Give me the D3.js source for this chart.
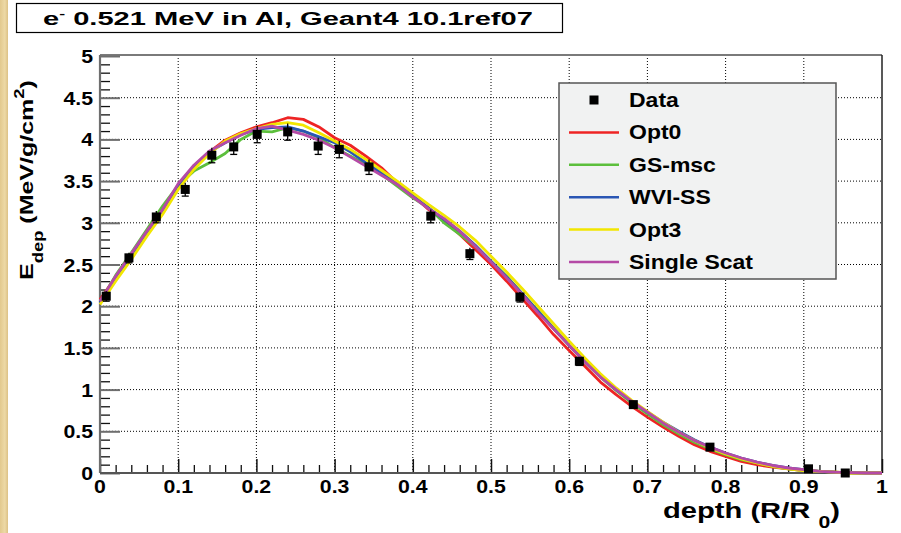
<!DOCTYPE html>
<html><head><meta charset="utf-8">
<script src="https://cdn.jsdelivr.net/npm/d3@7"></script>
<style>
html,body{margin:0;padding:0;background:#fff;}
svg{display:block;}
text{font-family:"Liberation Sans",Arial,Helvetica,sans-serif;font-weight:bold;fill:#000;}
</style></head>
<body>
<svg id="c" width="901" height="533"></svg>
<script>
// ---------------- data ----------------
const titleMain = " 0.521 MeV in Al, Geant4 10.1ref07";
const xTicks = [0,0.1,0.2,0.3,0.4,0.5,0.6,0.7,0.8,0.9,1];
const xTickLabels = ["0","0.1","0.2","0.3","0.4","0.5","0.6","0.7","0.8","0.9","1"];
const yTicks = [0,0.5,1,1.5,2,2.5,3,3.5,4,4.5,5];
const yTickLabels = ["0","0.5","1","1.5","2","2.5","3","3.5","4","4.5","5"];

const depth = [0,0.02,0.04,0.06,0.08,0.10,0.12,0.14,0.16,0.18,0.20,0.22,0.24,0.26,0.28,0.30,0.32,0.34,0.36,0.38,0.40,0.42,0.44,0.46,0.48,0.50,0.52,0.54,0.56,0.58,0.60,0.62,0.64,0.66,0.68,0.70,0.72,0.74,0.76,0.78,0.80,0.82,0.84,0.86,0.88,0.90,0.92,0.94,0.96,0.98,1.00];

const opt0 = [2.08,2.35,2.60,2.86,3.13,3.44,3.66,3.85,3.99,4.08,4.15,4.20,4.26,4.24,4.15,4.02,3.93,3.80,3.66,3.48,3.33,3.16,3.03,2.86,2.68,2.50,2.30,2.09,1.88,1.66,1.47,1.28,1.09,0.94,0.80,0.67,0.55,0.44,0.34,0.26,0.20,0.14,0.10,0.07,0.05,0.03,0.02,0.01,0.00,0.00,0.00];
const gsmsc = [2.05,2.37,2.64,2.92,3.20,3.45,3.62,3.72,3.83,4.00,4.10,4.09,4.14,4.10,4.02,3.90,3.80,3.70,3.58,3.44,3.30,3.18,3.00,2.86,2.72,2.54,2.36,2.15,1.95,1.74,1.53,1.33,1.15,0.99,0.84,0.71,0.58,0.47,0.37,0.29,0.22,0.16,0.12,0.08,0.05,0.03,0.02,0.01,0.00,0.00,0.00];
const wviss = [2.04,2.34,2.60,2.87,3.15,3.43,3.68,3.85,3.96,4.06,4.12,4.14,4.15,4.10,4.03,3.96,3.85,3.72,3.60,3.47,3.33,3.18,3.04,2.90,2.73,2.54,2.35,2.15,1.94,1.73,1.53,1.34,1.16,1.00,0.86,0.73,0.61,0.50,0.40,0.31,0.24,0.18,0.13,0.09,0.06,0.04,0.02,0.01,0.005,0.00,0.00];
const opt3  = [2.02,2.30,2.56,2.84,3.10,3.40,3.64,3.83,3.98,4.07,4.13,4.18,4.20,4.17,4.08,3.98,3.88,3.76,3.63,3.50,3.36,3.22,3.09,2.95,2.79,2.60,2.41,2.21,2.00,1.79,1.58,1.38,1.19,1.02,0.87,0.74,0.61,0.49,0.39,0.30,0.23,0.17,0.12,0.08,0.05,0.03,0.02,0.01,0.00,0.00,0.00];
const single= [2.06,2.36,2.63,2.90,3.16,3.47,3.69,3.86,3.96,4.05,4.13,4.16,4.11,4.06,3.99,3.90,3.79,3.68,3.57,3.46,3.31,3.17,3.05,2.90,2.72,2.53,2.34,2.14,1.92,1.73,1.53,1.33,1.15,1.00,0.86,0.73,0.60,0.49,0.39,0.31,0.24,0.18,0.13,0.09,0.06,0.04,0.02,0.01,0.005,0.00,0.00];

const seriesNames = ["Opt0","GS-msc","WVI-SS","Opt3","Single Scat"];
const seriesValues = [opt0,gsmsc,wviss,opt3,single];
const seriesColors = ["#ee2424","#5cbf3c","#2a56b4","#f2e600","#b54aa6"];

const dataX   = [0.008,0.037,0.072,0.109,0.143,0.171,0.201,0.240,0.279,0.306,0.344,0.423,0.473,0.537,0.613,0.682,0.780,0.906,0.953];
const dataY   = [2.12,2.58,3.07,3.40,3.81,3.91,4.06,4.09,3.92,3.88,3.67,3.08,2.63,2.11,1.34,0.82,0.31,0.05,0.00];
const dataErr = [0.06,0.06,0.07,0.08,0.09,0.09,0.10,0.10,0.10,0.10,0.09,0.08,0.07,0.06,0.05,0.04,0.03,0.02,0.01];

// ---------------- layout ----------------
const L=100, R=882, T=55, B=473;
const svg = d3.select("#c");
const x = d3.scaleLinear().domain([0,1]).range([L,R]);
const y = d3.scaleLinear().domain([0,5]).range([B,T+1]);

// textured left strip
const grad = svg.append("defs").append("linearGradient").attr("id","beige").attr("x1",0).attr("x2",1);
grad.append("stop").attr("offset","0%").attr("stop-color","#e2c98e");
grad.append("stop").attr("offset","60%").attr("stop-color","#edd9a6");
grad.append("stop").attr("offset","100%").attr("stop-color","#dcc185");
svg.append("rect").attr("x",0).attr("y",0).attr("width",8).attr("height",533).attr("fill","url(#beige)");

function scaleX(sel, k){
  sel.each(function(){
    const t=d3.select(this);
    const tx=+t.attr("x")||0, ty=+t.attr("y")||0;
    t.attr("x",0).attr("y",0).attr("transform",`translate(${tx},${ty}) scale(${k},1)`);
  });
}
function fitWidth(sel, w){
  const bw = sel.node().getComputedTextLength();
  scaleX(sel, w/bw);
}

// title box
svg.append("rect").attr("x",16.5).attr("y",3.5).attr("width",546).attr("height",29)
  .attr("fill","#fff").attr("stroke","#000").attr("stroke-width",1.2);
const tt = svg.append("text").attr("x",43).attr("y",25).attr("font-size",18);
tt.append("tspan").text("e");
tt.append("tspan").attr("dy",-8).attr("font-size",11).text("-");
tt.append("tspan").attr("dy",8).text(titleMain);
fitWidth(tt, 490);

// grid
const g = svg.append("g");
g.selectAll(".vg").data(xTicks.slice(1,-1)).enter().append("line")
  .attr("x1",d=>x(d)).attr("x2",d=>x(d)).attr("y1",T).attr("y2",B)
  .attr("stroke","#000").attr("stroke-width",1).attr("stroke-dasharray","1,2");
g.selectAll(".hg").data(yTicks.slice(1,-1)).enter().append("line")
  .attr("x1",L).attr("x2",R).attr("y1",d=>y(d)).attr("y2",d=>y(d))
  .attr("stroke","#000").attr("stroke-width",1).attr("stroke-dasharray","1,2");

// frame (top, right)
svg.append("line").attr("x1",L).attr("x2",R).attr("y1",T).attr("y2",T).attr("stroke","#7a7a7a").attr("stroke-width",2);
svg.append("line").attr("x1",R).attr("x2",R).attr("y1",T).attr("y2",B).attr("stroke","#222").attr("stroke-width",1.5);

// y axis
const yMinor = d3.range(0,50).map(i=>i/10).filter(v=>Math.abs(v*2-Math.round(v*2))>1e-6);
const yAxisMajor = d3.axisRight(y).tickValues(yTicks).tickSize(20).tickFormat("");
const yAxisMinor = d3.axisRight(y).tickValues(yMinor).tickSize(10).tickFormat("");
const ya1 = svg.append("g").attr("transform",`translate(${L},0)`).call(yAxisMinor);
ya1.select(".domain").remove();
ya1.selectAll("line").attr("stroke","#111").attr("stroke-width",1.3);
const ya2 = svg.append("g").attr("transform",`translate(${L},0)`).call(yAxisMajor);
ya2.select(".domain").remove();
ya2.selectAll("line").attr("stroke","#6e6e6e").attr("stroke-width",2);

// x axis
const xMinor = d3.range(0,51).map(i=>i/50).filter(v=>Math.abs(v*10-Math.round(v*10))>1e-6);
const xa1 = svg.append("g").attr("transform",`translate(0,${B})`).call(d3.axisTop(x).tickValues(xMinor).tickSize(8).tickFormat(""));
xa1.select(".domain").remove();
xa1.selectAll("line").attr("stroke","#111").attr("stroke-width",1.3);
const xa2 = svg.append("g").attr("transform",`translate(0,${B})`).call(d3.axisTop(x).tickValues(xTicks).tickSize(14).tickFormat(""));
xa2.select(".domain").remove();
xa2.selectAll("line").attr("stroke","#111").attr("stroke-width",1.5);

// axis lines
svg.append("line").attr("x1",L).attr("x2",L).attr("y1",T).attr("y2",B).attr("stroke","#6e6e6e").attr("stroke-width",2.2);
svg.append("line").attr("x1",L).attr("x2",R).attr("y1",B).attr("y2",B).attr("stroke","#555").attr("stroke-width",2);

// tick labels
svg.selectAll(".yl").data(yTicks).enter().append("text")
  .attr("x",93).attr("y",d=>y(d)+7).attr("text-anchor","end").attr("font-size",19)
  .text((d,i)=>yTickLabels[i]).call(scaleX,1.12);
svg.selectAll(".xl").data(xTicks).enter().append("text")
  .attr("x",d=>x(d)).attr("y",493).attr("text-anchor","middle").attr("font-size",19)
  .text((d,i)=>xTickLabels[i]).call(scaleX,1.12);

// axis titles
const xt = svg.append("text").attr("x",663).attr("y",517.5).attr("font-size",22);
xt.append("tspan").text("depth (R/R ");
xt.append("tspan").attr("dy",10).attr("font-size",16).text("0");
xt.append("tspan").attr("dy",-10).text(")");
fitWidth(xt,177);

const yt = svg.append("text").attr("font-size",19);
yt.append("tspan").text("E");
yt.append("tspan").attr("dy",10).attr("font-size",14).text("dep");
yt.append("tspan").attr("dy",-10).text(" (MeV/g/cm");
yt.append("tspan").attr("dy",-9).attr("font-size",14).text("2");
yt.append("tspan").attr("dy",9).text(")");
const ylen = yt.node().getComputedTextLength();
yt.attr("transform",`translate(33,280) rotate(-90) scale(${200/ylen},1)`);

// curves
const line = d3.line().x((d,i)=>x(depth[i])).y(d=>y(d));
svg.selectAll(".curve").data(seriesValues).enter().append("path")
  .attr("d",d=>line(d)).attr("fill","none")
  .attr("stroke",(d,i)=>seriesColors[i]).attr("stroke-width",2.8).attr("stroke-linejoin","round");

// data points
const pts = svg.append("g");
dataX.forEach((dx,i)=>{
  const cx=x(dx), cy=y(dataY[i]), lo=y(dataY[i]-dataErr[i]), hi=y(dataY[i]+dataErr[i]);
  pts.append("line").attr("x1",cx).attr("x2",cx).attr("y1",hi).attr("y2",lo).attr("stroke","#000").attr("stroke-width",1.3);
  pts.append("line").attr("x1",cx-3.5).attr("x2",cx+3.5).attr("y1",lo).attr("y2",lo).attr("stroke","#000").attr("stroke-width",1.3);
  pts.append("rect").attr("x",cx-4.5).attr("y",cy-4.5).attr("width",9).attr("height",9).attr("fill","#000");
});

// legend
const lg = svg.append("g");
lg.append("rect").attr("x",559).attr("y",83).attr("width",277).attr("height",196)
  .attr("fill","#f1f2f2").attr("stroke","#555").attr("stroke-width",1.5);
const rowY = i=>100+i*32.4;
lg.append("rect").attr("x",594-4.5).attr("y",rowY(0)-4.5).attr("width",9).attr("height",9).attr("fill","#000");
lg.append("text").attr("x",629).attr("y",rowY(0)+7).attr("font-size",20).text("Data").call(scaleX,1.15);
seriesNames.forEach((nm,i)=>{
  const yy=rowY(i+1);
  lg.append("line").attr("x1",569).attr("x2",619).attr("y1",yy).attr("y2",yy)
    .attr("stroke",seriesColors[i]).attr("stroke-width",2.5);
  lg.append("text").attr("x",629).attr("y",yy+7).attr("font-size",20).text(nm).call(scaleX,1.15);
});
</script>
</body></html>
